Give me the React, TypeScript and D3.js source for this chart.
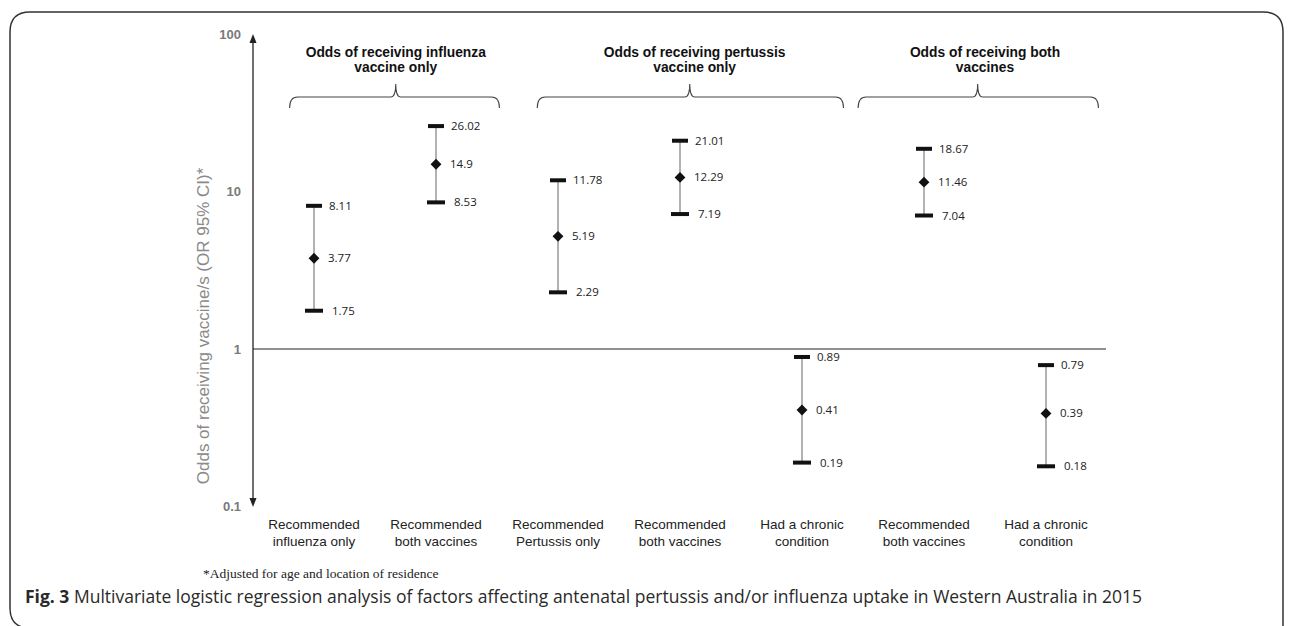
import { useMemo } from "react";
import * as d3 from "d3";

// chart data
const categories: string[][] = [
  ["Recommended", "influenza only"],
  ["Recommended", "both vaccines"],
  ["Recommended", "Pertussis only"],
  ["Recommended", "both vaccines"],
  ["Had a chronic", "condition"],
  ["Recommended", "both vaccines"],
  ["Had a chronic", "condition"],
];
const oddsRatio = [3.77, 14.9, 5.19, 12.29, 0.41, 11.46, 0.39];
const lowerCI = [1.75, 8.53, 2.29, 7.19, 0.19, 7.04, 0.18];
const upperCI = [8.11, 26.02, 11.78, 21.01, 0.89, 18.67, 0.79];
const lowerLabels = ["1.75", "8.53", "2.29", "7.19", "0.19", "7.04", "0.18"];
const upperLabels = ["8.11", "26.02", "11.78", "21.01", "0.89", "18.67", "0.79"];
const midLabels = ["3.77", "14.9", "5.19", "12.29", "0.41", "11.46", "0.39"];
const yTicks = [100, 10, 1, 0.1];
const yTickLabels = ["100", "10", "1", "0.1"];

// groups span category indices (bracket ends, bracket tip)
const groupTitles = [
  ["Odds of receiving influenza", "vaccine only"],
  ["Odds of receiving pertussis", "vaccine only"],
  ["Odds of receiving both", "vaccines"],
];
const groupStart = [-0.2, 1.83, 4.46];
const groupEnd = [1.52, 4.34, 6.43];
const groupTip = [0.67, 3.08, 5.44];
const groupTitlePos = [0.67, 3.12, 5.5];

const caption =
  " Multivariate logistic regression analysis of factors affecting antenatal pertussis and/or influenza uptake in Western Australia in 2015";

const W = 1292;
const H = 626;

const App = () => {
  const x = useMemo(() => d3.scaleLinear().domain([0, 6]).range([314, 1046]), []);
  const y = useMemo(() => d3.scaleLog().domain([0.1, 100]).range([506.5, 34]), []);

  const axisX = 253;
  const diamond = d3.symbol().type(d3.symbolDiamond2).size(75)();

  const brace = (i: number) => {
    const l = x(groupStart[i]);
    const r = x(groupEnd[i]);
    const c = x(groupTip[i]);
    const top = 97;
    return `M${l},108 Q${l},${top} ${l + 8},${top} H${c - 5} Q${c},${top} ${c},84 Q${c},${top} ${c + 5},${top} H${r - 8} Q${r},${top} ${r},108`;
  };

  return (
    <div style={{ position: "absolute", left: 0, top: 0 }}>
      <svg width={W} height={H} style={{ display: "block", background: "#fff" }}>
        {/* frame */}
        <path
          d={`M1283,640 V32 Q1283,12 1263,12 H30 Q10,12 10,32 V608 Q10,628 30,628`}
          fill="none"
          stroke="#333"
          strokeWidth={1.5}
        />

        {/* y axis with arrows */}
        <line x1={axisX} x2={axisX} y1={40} y2={501} stroke="#222" strokeWidth={1.3} />
        <path d={`M${axisX},34 L${axisX - 3.5},43 L${axisX + 3.5},43 Z`} fill="#222" />
        <path d={`M${axisX},507 L${axisX - 3.5},498 L${axisX + 3.5},498 Z`} fill="#222" />
        {yTicks.map((t, i) => (
          <text
            key={t}
            x={241}
            y={y(t)}
            dy="0.35em"
            textAnchor="end"
            fontFamily="'Liberation Sans', Arial, sans-serif"
            fontWeight="bold"
            fontSize={13}
            fill="#7a7a7a"
          >
            {yTickLabels[i]}
          </text>
        ))}
        <text
          transform={`translate(209,326) rotate(-90)`}
          textAnchor="middle"
          fontFamily="'Liberation Sans', Arial, sans-serif"
          fontSize={17}
          fill="#8a8a8a"
        >
          Odds of receiving vaccine/s (OR 95% CI)*
        </text>

        {/* reference line at OR = 1 */}
        <line x1={axisX} x2={1106} y1={y(1)} y2={y(1)} stroke="#222" strokeWidth={1.2} />

        {/* group brackets and titles */}
        {groupTitles.map((g, i) => (
          <g key={i}>
            <path d={brace(i)} fill="none" stroke="#444" strokeWidth={1.1} />
            {g.map((line, j) => (
              <text
                key={j}
                x={x(groupTitlePos[i])}
                y={52 + j * 15}
                dy="0.35em"
                textAnchor="middle"
                fontFamily="'Liberation Sans', Arial, sans-serif"
                fontWeight="bold"
                fontSize={13.8}
                fill="#111"
              >
                {line}
              </text>
            ))}
          </g>
        ))}

        {/* error bars */}
        {oddsRatio.map((v, i) => {
          const cx = x(i);
          return (
            <g key={i}>
              <line x1={cx} x2={cx} y1={y(upperCI[i])} y2={y(lowerCI[i])} stroke="#999" strokeWidth={1.5} />
              <rect x={cx - 8} y={y(upperCI[i]) - 2} width={16} height={4} fill="#111" />
              <rect x={cx - 9} y={y(lowerCI[i]) - 2} width={18} height={4} fill="#111" />
              <path d={diamond!} transform={`translate(${cx},${y(v)})`} fill="#111" />
              <text x={cx + 15} y={y(upperCI[i])} dy="0.35em" fontFamily="'Open Sans', sans-serif" fontSize={11.5} fill="#222">
                {upperLabels[i]}
              </text>
              <text x={cx + 14} y={y(v)} dy="0.35em" fontFamily="'Open Sans', sans-serif" fontSize={11.5} fill="#222">
                {midLabels[i]}
              </text>
              <text x={cx + 18} y={y(lowerCI[i])} dy="0.35em" fontFamily="'Open Sans', sans-serif" fontSize={11.5} fill="#222">
                {lowerLabels[i]}
              </text>
            </g>
          );
        })}

        {/* category labels */}
        {categories.map((c, i) => (
          <text
            key={i}
            x={x(i)}
            textAnchor="middle"
            fontFamily="'Liberation Sans', Arial, sans-serif"
            fontSize={13.5}
            fill="#222"
          >
            {c.map((line, j) => (
              <tspan key={j} x={x(i)} y={529 + j * 16.5}>
                {line}
              </tspan>
            ))}
          </text>
        ))}

        {/* footnote */}
        <text x={203} y={578} fontFamily="'Liberation Serif', 'Times New Roman', serif" fontSize={13.5} fill="#222">
          *Adjusted for age and location of residence
        </text>

        {/* caption */}
        <text x={25} y={603} fontFamily="'Open Sans', sans-serif" fontSize={17.5} fill="#2a2a2a">
          <tspan fontWeight="bold">Fig. 3</tspan>
          {caption}
        </text>
      </svg>
    </div>
  );
};

export default App;
